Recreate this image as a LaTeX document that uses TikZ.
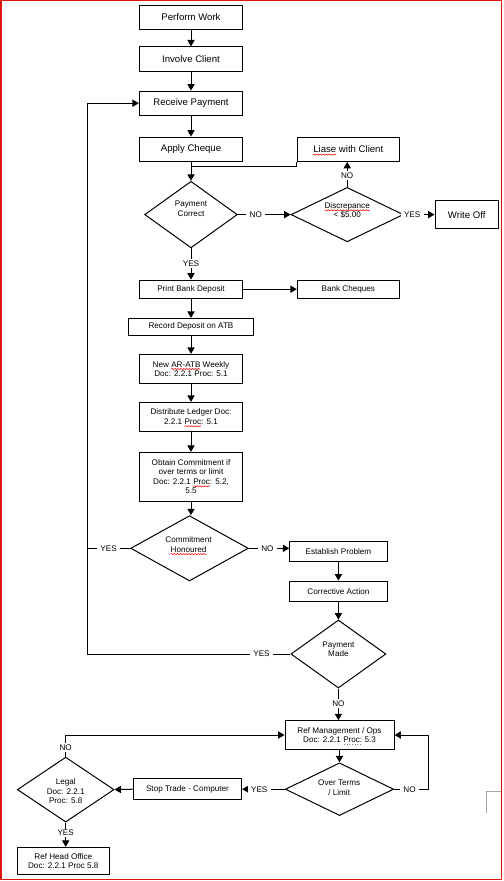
\documentclass[tikz,border=0pt]{standalone}
\usepackage{fontspec}
\setmainfont{Liberation Sans}
\usetikzlibrary{shapes.geometric,arrows.meta,decorations.pathmorphing}
\newdimen\pxu \pxu=0.75pt
\newsavebox\splbox
\newcommand\spl[1]{\sbox\splbox{#1}\rlap{\tikz[overlay,baseline=0pt]\draw[red,line width=0.4pt,decorate,decoration={snake,amplitude=0.45pt,segment length=2.2pt}] (0pt,-1.5pt) -- (\wd\splbox,-1.5pt);}\usebox\splbox}
\newcommand\gdt[1]{\sbox\splbox{#1}\rlap{\tikz[overlay,baseline=0pt]\draw[gray,line width=0.6pt,dash pattern=on 0.6pt off 1.4pt] (0.5pt,-1.4pt) -- (\wd\splbox,-1.4pt);}\usebox\splbox}
\begin{document}
\begin{tikzpicture}[x=0.75pt,y=-0.75pt,
  big/.style={font=\fontsize{7.2}{8.6}\selectfont},
  small/.style={font=\fontsize{6.1}{7}\selectfont},
  bx/.style 2 args={draw, line width=0.75pt, minimum width=#1\pxu, minimum height=#2\pxu, inner sep=0pt, align=center},
  dia/.style 2 args={draw, shape=diamond, line width=0.75pt, minimum width=#1\pxu, minimum height=#2\pxu, inner sep=0pt},
  dtxt/.style={small, align=center, inner sep=0pt},
  ln/.style={line width=0.75pt},
  arr/.style={line width=0.75pt, -{Triangle[length=4.8pt,width=5.4pt]}},
  lbl/.style={small, fill=white, inner xsep=2.5pt, inner ysep=1pt},
  redframe/.style={draw={rgb,255:red,225;green,20;blue,20}, line width=1.125pt}]
\useasboundingbox (0,0) rectangle (503,881);
\draw[redframe] (0.75,0.75) rectangle (501.25,879.25);
\draw[gray!70, line width=0.6pt] (501,791) -- (486,791) -- (486,813);

% boxes and diamonds
\node[bx={103.4}{24.3},big] (pw) at (191,17.2) {Perform Work};
\node[bx={103.4}{24.3},big] (ic) at (191,59) {Involve Client};
\node[bx={103.4}{24.3},big] (rp) at (191,103.2) {Receive Payment};
\node[bx={103.4}{24.3},big] (ac) at (191,149.2) {Apply Cheque};
\node[bx={102}{24.3},big] (lwc) at (348.3,149.2) {\spl{Liase} with Client};
\node[dia={92.7}{66.6}] (pc) at (191,214.6) {};
\node[dtxt] (pct) at (191,208.9) {Payment\\Correct};
\node[dia={112.3}{54.4}] (disc) at (347.2,214.6) {};
\node[dtxt] (disct) at (347.2,210.3) {\spl{Discrepance}\\< \$5.00};
\node[bx={63.3}{27.6},big] (wo) at (466.7,214.6) {Write Off};
\node[bx={103.4}{18.3},small] (pbd) at (191,289.2) {Print Bank Deposit};
\node[bx={102}{18.3},small] (bc) at (348.3,289.2) {Bank Cheques};
\node[bx={124.4}{16.7},small] (rd) at (191,326.7) {Record Deposit on ATB};
\node[bx={103.4}{29},small] (nar) at (191,368.8) {New \spl{AR-ATB} Weekly\\Doc: 2.2.1 Proc: 5.1};
\node[bx={103.4}{28.7},small] (dl) at (191,416.7) {Distribute Ledger Doc:\\2.2.1 \spl{Proc}: 5.1};
\node[bx={103.4}{48.7},small] (oc) at (191,476.7) {Obtain Commitment if\\over terms or limit\\Doc: 2.2.1 \spl{Proc}: 5.2,\\5.5};
\node[dia={117.7}{65.3}] (ch) at (189.5,548.3) {};
\node[dtxt] (cht) at (188.5,544.5) {Commitment\\\spl{Honoured}};
\node[bx={97.3}{20},small] (ep) at (338.4,551.3) {Establish Problem};
\node[bx={97.4}{20.3},small] (ca) at (338.4,591.2) {Corrective Action};
\node[dia={95}{68}] (pm) at (338.4,654) {};
\node[dtxt] (pmt) at (338.4,649) {Payment\\Made};
\node[bx={109}{28.6},small] (rm) at (339.5,735) {Ref Management / Ops\\Doc: 2.2.1 \gdt{Proc:} 5.3};
\node[dia={108.3}{52.7}] (ot) at (339.5,789.2) {};
\node[dtxt] (ott) at (339.2,787.8) {Over Terms\\/ Limit};
\node[bx={108.4}{20.7},small] (st) at (187.5,789.2) {Stop Trade - Computer};
\node[dia={96.7}{65}] (lg) at (65.7,789.6) {};
\node[dtxt] (lgt) at (65.7,791.1) {Legal\\Doc: 2.2.1\\Proc: 5.8};
\node[bx={92}{27},small] (rho) at (63.3,860.8) {Ref Head Office\\Doc: 2.2.1 Proc 5.8};

\coordinate (loopx) at (87,0);
\coordinate (nox) at (428.3,0);
\coordinate (jn) at (191,166);

% connectors
\draw[arr] (pw.south) -- (ic.north);
\draw[arr] (ic.south) -- (rp.north);
\draw[arr] (rp.south) -- (ac.north);
\draw[arr] (ac.south) -- (pc.north);
\draw[ln] (lwc.south west) |- (jn);
\draw[arr] (pc.east) -- node[lbl,pos=0.34]{NO} (disc.west);
\draw[arr] (disc.north) -- node[lbl,pos=0.45]{NO} (disc.north |- lwc.south);
\draw[arr] (disc.east) -- node[lbl,pos=0.27]{YES} (wo.west);
\draw[arr] (pc.south) -- node[lbl,pos=0.48]{YES} (pbd.north);
\draw[arr] (pbd.east) -- (bc.west);
\draw[arr] (pbd.south) -- (rd.north);
\draw[arr] (rd.south) -- (nar.north);
\draw[arr] (nar.south) -- (dl.north);
\draw[arr] (dl.south) -- (oc.north);
\draw[arr] (oc.south) -- (oc.south |- ch.north);
\draw[ln] (ch.west) -- node[lbl,pos=0.5]{YES} (loopx |- ch.west);
\draw[arr] (pm.west) -- node[lbl,pos=0.142]{YES} (loopx |- pm.west) |- (rp.west);
\draw[arr] (ch.east) -- node[lbl,pos=0.46]{NO} (ch.east -| ep.west);
\draw[arr] (ep.south) -- (ca.north);
\draw[arr] (ca.south) -- (pm.north);
\draw[arr] (pm.south) -- node[lbl,pos=0.47]{NO} (pm.south |- rm.north);
\draw[arr] (rm.south) -- (ot.north);
\draw[arr] (ot.east) -- node[lbl,pos=0.45]{NO} (nox |- ot.east) |- (rm.east);
\draw[arr] (ot.west) -- node[lbl,pos=0.6]{YES} (st.east);
\draw[arr] (st.west) -- (lg.east);
\draw[arr] (lg.north) |- node[lbl,pos=0.21]{NO} (rm.west);
\draw[arr] (lg.south) -- node[lbl,pos=0.42]{YES} (lg.south |- rho.north);
\end{tikzpicture}
\end{document}
